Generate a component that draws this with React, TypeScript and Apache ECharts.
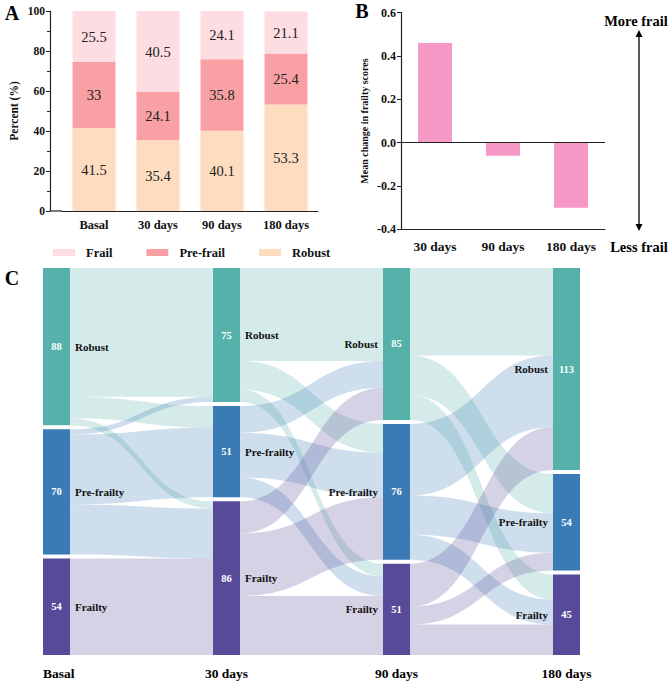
import React, { useEffect, useRef } from "react";
import * as echarts from "echarts";

// Panel A
const categoriesA = ["Basal", "30 days", "90 days", "180 days"];
const robustPct = [41.5, 35.4, 40.1, 53.3];
const preFrailPct = [33, 24.1, 35.8, 25.4];
const frailPct = [25.5, 40.5, 24.1, 21.1];

// Panel B
const categoriesB = ["30 days", "90 days", "180 days"];
const meanChange = [0.46, -0.06, -0.3];

// Panel C
const stages = ["Basal", "30 days", "90 days", "180 days"];
const states = ["Robust", "Pre-frailty", "Frailty"];
const stateCounts = [
  [88, 70, 54],
  [75, 51, 86],
  [85, 76, 51],
  [113, 54, 45],
];
// flows[from state][to state]
const flows01 = [
  [72, 12, 4],
  [3, 39, 28],
  [0, 0, 54],
];
const flows12 = [
  [52, 16, 7],
  [15, 25, 11],
  [18, 35, 33],
];
const flows23 = [
  [49, 22, 14],
  [40, 22, 14],
  [24, 10, 17],
];

const SERIF = "Liberation Serif";
const stateColors = ["#55b1a9", "#3a7bb6", "#574a99"];

export default function App() {
  const ref = useRef<HTMLDivElement>(null);
  useEffect(() => {
    document.body.style.margin = "0";
    const chart = echarts.init(ref.current!, null, { renderer: "svg" });

    const nodes: any[] = [];
    stages.forEach((stage, si) => {
      states.forEach((st, ti) => {
        const leftSide = si < 2;
        nodes.push({
          name: `${stage}|${st}`,
          value: stateCounts[si][ti],
          depth: si,
          itemStyle: { color: stateColors[ti], borderWidth: 0 },
          label: {
            position: leftSide ? "insideLeft" : "insideRight",
            distance: 0,
            formatter: (p: any) => {
              const n = String(p.name).split("|")[1];
              const v = stateCounts[si][ti];
              return leftSide ? `{v|${v}}{n|${n}}` : `{n|${n}}{v|${v}}`;
            },
          },
        });
      });
    });
    const links: any[] = [];
    const flowSets = [flows01, flows12, flows23];
    flowSets.forEach((fl, si) => {
      fl.forEach((row, a) => {
        row.forEach((val, b) => {
          if (val > 0) {
            links.push({
              source: `${stages[si]}|${states[a]}`,
              target: `${stages[si + 1]}|${states[b]}`,
              value: val,
            });
          }
        });
      });
    });

    const axisLine = { show: true, lineStyle: { color: "#222", width: 1.2 } };
    const boldLabel = { fontFamily: SERIF, fontWeight: "bold" as const, color: "#111" };
    const txt = (text: string, x: number, y: number, size: number, align = "center") => ({
      type: "text",
      x,
      y,
      style: {
        text,
        fontFamily: SERIF,
        fontWeight: "bold",
        fontSize: size,
        fill: "#000",
        align,
        verticalAlign: "middle",
      },
    });

    chart.setOption({
      animation: false,
      textStyle: { fontFamily: SERIF },
      legend: {
        data: ["Frail", "Pre-frail", "Robust"],
        left: 48,
        top: 241,
        itemWidth: 22,
        itemHeight: 7,
        itemGap: 34,
        icon: "rect",
        textStyle: { ...boldLabel, fontSize: 12.5, padding: [0, 0, 0, 6] },
      },
      grid: [
        { left: 62, top: 11, width: 256, height: 200 },
        { left: 401, top: 12.7, right: 64, height: 216.7 },
      ],
      xAxis: [
        {
          type: "category",
          gridIndex: 0,
          data: categoriesA,
          axisLine,
          axisTick: { show: false },
          axisLabel: { ...boldLabel, fontSize: 12.5, margin: 7 },
        },
        {
          type: "category",
          gridIndex: 1,
          data: categoriesB,
          axisLine: { ...axisLine, onZero: false },
          axisTick: { show: false },
          axisLabel: { ...boldLabel, fontSize: 13.5, margin: 10 },
        },
      ],
      yAxis: [
        {
          type: "value",
          gridIndex: 0,
          min: 0,
          max: 100,
          interval: 20,
          offset: 12,
          name: "Percent (%)",
          nameLocation: "middle",
          nameGap: 30,
          nameTextStyle: { ...boldLabel, fontSize: 11.5 },
          axisLine,
          axisTick: { show: true, length: 4, lineStyle: { color: "#222" } },
          minorTick: { show: true, splitNumber: 2, length: 3, lineStyle: { color: "#222" } },
          splitLine: { show: false },
          axisLabel: { ...boldLabel, fontSize: 11.5, margin: 5 },
        },
        {
          type: "value",
          gridIndex: 1,
          min: -0.4,
          max: 0.6,
          interval: 0.2,
          name: "Mean change in frailty scores",
          nameLocation: "middle",
          nameGap: 32,
          nameTextStyle: { ...boldLabel, fontSize: 10 },
          axisLine,
          axisTick: { show: true, length: 4, lineStyle: { color: "#222" } },
          splitLine: { show: false },
          axisLabel: {
            ...boldLabel,
            fontSize: 12,
            margin: 5,
            formatter: (v: number) => v.toFixed(1),
          },
        },
      ],
      series: [
        {
          name: "Robust",
          type: "bar",
          stack: "a",
          xAxisIndex: 0,
          yAxisIndex: 0,
          barWidth: 43,
          data: robustPct,
          itemStyle: { color: "#fddcc0" },
          label: { show: true, position: "inside", color: "#222", fontSize: 14.5, fontFamily: SERIF },
        },
        {
          name: "Pre-frail",
          type: "bar",
          stack: "a",
          xAxisIndex: 0,
          yAxisIndex: 0,
          barWidth: 43,
          data: preFrailPct,
          itemStyle: { color: "#f8a0a3" },
          label: { show: true, position: "inside", color: "#222", fontSize: 14.5, fontFamily: SERIF },
        },
        {
          name: "Frail",
          type: "bar",
          stack: "a",
          xAxisIndex: 0,
          yAxisIndex: 0,
          barWidth: 43,
          data: frailPct,
          itemStyle: { color: "#fddde1" },
          label: { show: true, position: "inside", color: "#222", fontSize: 14.5, fontFamily: SERIF },
        },
        {
          name: "Mean change",
          type: "bar",
          xAxisIndex: 1,
          yAxisIndex: 1,
          barWidth: 34,
          data: meanChange,
          itemStyle: { color: "#f799c6" },
          markLine: {
            silent: true,
            symbol: "none",
            label: { show: false },
            lineStyle: { color: "#222", type: "solid", width: 1.2 },
            data: [{ yAxis: 0 }],
          },
        },
        {
          type: "sankey",
          left: 43,
          top: 268,
          right: 89,
          bottom: 26,
          nodeWidth: 27,
          nodeGap: 4,
          layoutIterations: 0,
          nodeAlign: "justify",
          draggable: false,
          data: nodes,
          links,
          label: {
            show: true,
            rich: {
              v: {
                width: 27,
                align: "center",
                color: "#fff",
                fontWeight: "bold",
                fontSize: 10.5,
                fontFamily: SERIF,
              },
              n: {
                color: "#111",
                fontWeight: "bold",
                fontSize: 11,
                fontFamily: SERIF,
                padding: [0, 5, 0, 5],
              },
            },
          },
          lineStyle: { color: "source", opacity: 0.25, curveness: 0.5 },
          emphasis: { disabled: true },
        },
      ],
      graphic: [
        txt("A", 12, 13, 20),
        txt("B", 362, 11, 20),
        txt("C", 12, 278, 20),
        txt("More frail", 636, 21, 14.5),
        txt("Less frail", 639, 247, 14.5),
        { type: "line", shape: { x1: 50, y1: 211, x2: 62, y2: 211 }, style: { stroke: "#222", lineWidth: 1.2 } },
        { type: "line", shape: { x1: 639, y1: 34, x2: 639, y2: 227 }, style: { stroke: "#000", lineWidth: 1.3 } },
        { type: "polygon", shape: { points: [[639, 30], [635.5, 37], [642.5, 37]] }, style: { fill: "#000" } },
        { type: "polygon", shape: { points: [[639, 231], [635.5, 224], [642.5, 224]] }, style: { fill: "#000" } },
        txt(stages[0], 43, 673, 13.5, "left"),
        txt(stages[1], 226.5, 673, 13.5),
        txt(stages[2], 396.5, 673, 13.5),
        txt(stages[3], 566.5, 673, 13.5),
      ],
    });
    return () => chart.dispose();
  }, []);
  return <div ref={ref} style={{ width: 669, height: 681 }} />;
}
